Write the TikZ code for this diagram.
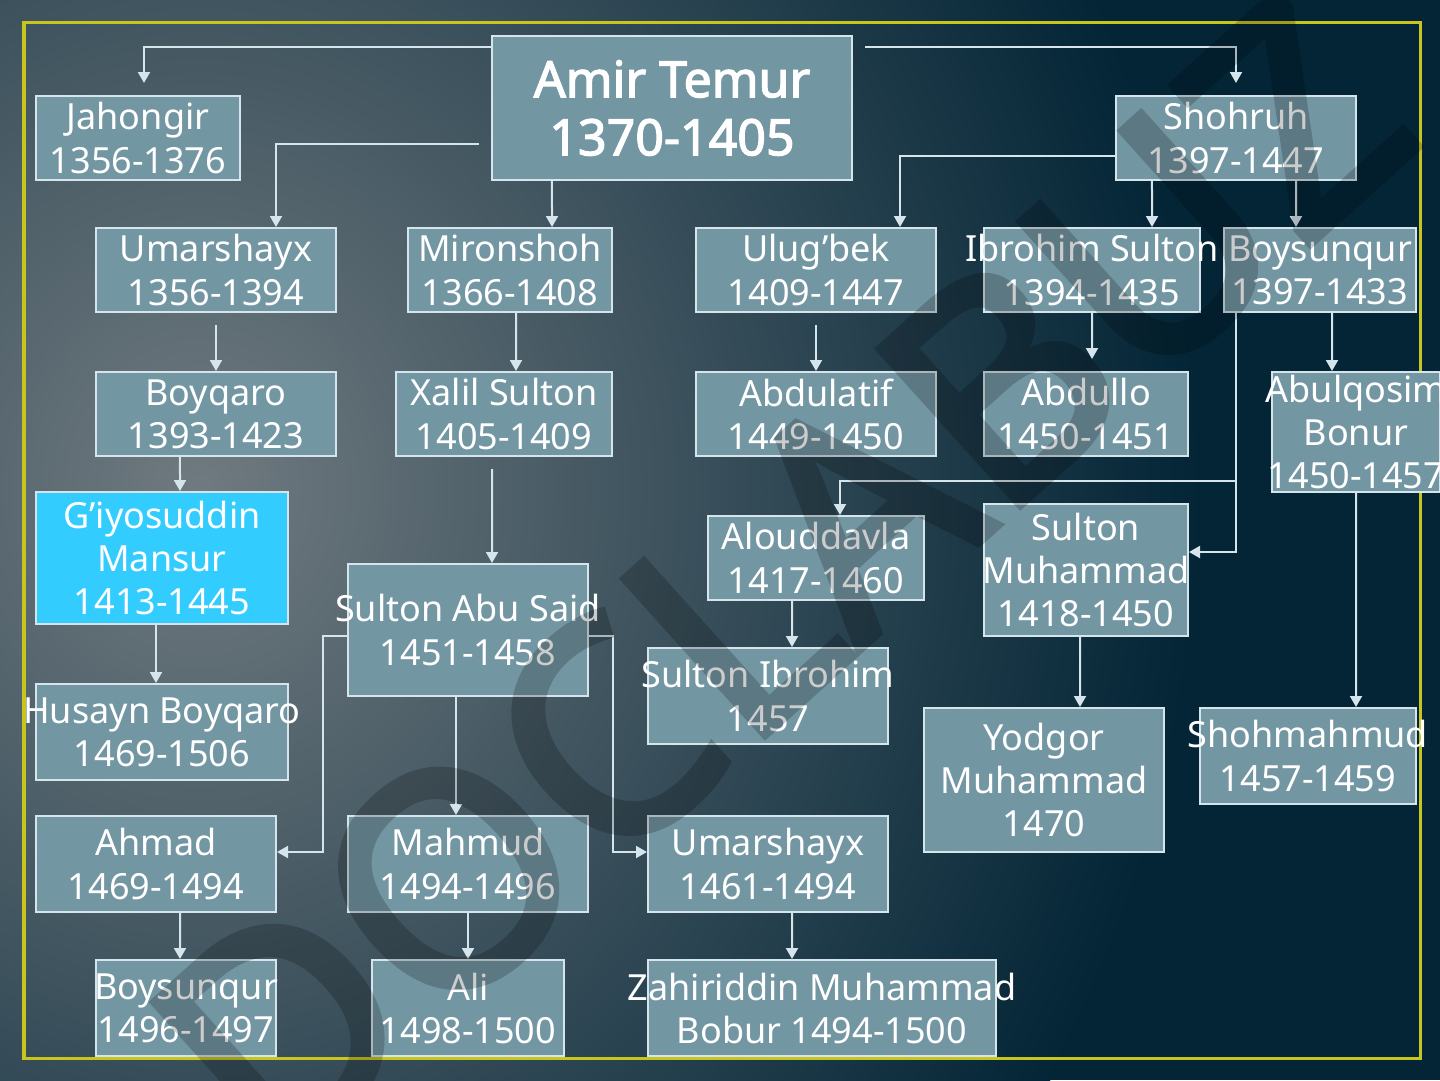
\documentclass[tikz,border=0pt]{standalone}
\usepackage{fontspec}
\setmainfont{Noto Sans}
\newfontfamily\heavysans{Noto Sans}[FakeBold=2.5]
\usepackage{tikz}
\usetikzlibrary{arrows.meta}

\newcommand{\spill}[1]{\makebox[0pt]{#1}}

\begin{document}
\begin{tikzpicture}
			[x=0.025cm,y=-0.025cm,
			%Styles
			person/.style={draw=boxline,line width=0.05cm,fill=boxfill,text=white,align=center,inner sep=0pt,
				font=\fontsize{25.6pt}{30.6pt}\selectfont},
			founder/.style={person,font=\heavysans\fontsize{35.6pt}{41.3pt}\selectfont},
			marked/.style={person,fill=markfill},
			link/.style={draw=linkline,line width=0.05cm,-{Triangle[length=7.8pt,width=8.5pt]}},
			frame/.style={draw=framecol,line width=0.075cm},
			watermark/.style={rotate=42,text=black,inner sep=0pt,
				font=\heavysans\fontsize{210pt}{210pt}\selectfont}
			]
			
			%Colors
			\definecolor{bgdark}{RGB}{3,37,54}
			\definecolor{bglight}{RGB}{112,122,128}
			\definecolor{boxfill}{RGB}{115,150,163}
			\definecolor{boxline}{RGB}{214,228,235}
			\definecolor{markfill}{RGB}{51,204,255}
			\definecolor{linkline}{RGB}{214,228,235}
			\definecolor{framecol}{RGB}{200,198,30}
			
			%Background
			\useasboundingbox (0,0) rectangle (1440,1080);
			\fill[bgdark] (0,0) rectangle (1440,1080);
			\begin{scope}
				\clip (0,0) rectangle (1440,1080);
				\shade[inner color=bglight,outer color=bgdark] (200,490) ellipse [x radius=25cm,y radius=28cm];
			\end{scope}
			\draw[frame] (24,22) rectangle (1420,1058);
			
			%The graphic
			\node[founder,minimum width=9cm,minimum height=3.6cm] (amir) at (672,108) {Amir Temur\\1370-1405};
			
			\node[person,minimum width=5.1cm,minimum height=2.1cm] (jahongir) at (138,138) {Jahongir\\1356-1376};
			\node[person,minimum width=6cm,minimum height=2.1cm] (shohruh) at (1236,138) {Shohruh\\1397-1447};
			
			\node[person,minimum width=6cm,minimum height=2.1cm] (umar1) at (216,270) {Umarshayx\\1356-1394};
			\node[person,minimum width=5.1cm,minimum height=2.1cm] (miron) at (510,270) {Mironshoh\\1366-1408};
			\node[person,minimum width=6cm,minimum height=2.1cm] (ulug) at (816,270) {Ulug’bek\\1409-1447};
			\node[person,minimum width=5.4cm,minimum height=2.1cm] (ibrohim) at (1092,270) {\spill{Ibrohim Sulton}\\1394-1435};
			\node[person,minimum width=4.8cm,minimum height=2.1cm] (boysun1) at (1320,270) {\spill{Boysunqur}\\\spill{1397-1433}};
			
			\node[person,minimum width=6cm,minimum height=2.1cm] (boyqaro) at (216,414) {Boyqaro\\1393-1423};
			\node[person,minimum width=5.4cm,minimum height=2.1cm] (xalil) at (504,414) {Xalil Sulton\\1405-1409};
			\node[person,minimum width=6cm,minimum height=2.1cm] (abdulatif) at (816,414) {Abdulatif\\1449-1450};
			\node[person,minimum width=5.1cm,minimum height=2.1cm] (abdullo) at (1086,414) {Abdullo\\1450-1451};
			\node[person,minimum width=4.2cm,minimum height=3cm] (abulqosim) at (1356,432) {\spill{Abulqosim}\\Bonur\\\spill{1450-1457}};
			
			\node[marked,minimum width=6.3cm,minimum height=3.3cm] (giyos) at (162,558) {G’iyosuddin\\Mansur\\1413-1445};
			\node[person,minimum width=6cm,minimum height=3.3cm] (abusaid) at (468,630) {\spill{Sulton Abu Said}\\1451-1458};
			\node[person,minimum width=5.4cm,minimum height=2.1cm] (alouddavla) at (816,558) {Alouddavla\\1417-1460};
			\node[person,minimum width=5.1cm,minimum height=3.3cm] (sultonmuh) at (1086,570) {Sulton\\\spill{Muhammad}\\1418-1450};
			
			\node[person,minimum width=6cm,minimum height=2.4cm] (sultonibr) at (768,696) {\spill{Sulton Ibrohim}\\1457};
			\node[person,minimum width=6.3cm,minimum height=2.4cm] (husayn) at (162,732) {\spill{Husayn Boyqaro}\\1469-1506};
			\node[person,minimum width=6cm,minimum height=3.6cm] (yodgor) at (1044,780) {Yodgor\\Muhammad\\1470};
			\node[person,minimum width=5.4cm,minimum height=2.4cm] (shohmah) at (1308,756) {\spill{Shohmahmud}\\1457-1459};
			
			\node[person,minimum width=6cm,minimum height=2.4cm] (ahmad) at (156,864) {Ahmad\\1469-1494};
			\node[person,minimum width=6cm,minimum height=2.4cm] (mahmud) at (468,864) {Mahmud\\1494-1496};
			\node[person,minimum width=6cm,minimum height=2.4cm] (umar2) at (768,864) {Umarshayx\\1461-1494};
			
			\node[person,minimum width=4.5cm,minimum height=2.4cm] (boysun2) at (186,1008) {\spill{Boysunqur}\\\spill{1496-1497}};
			\node[person,minimum width=4.8cm,minimum height=2.4cm] (ali) at (468,1008) {Ali\\1498-1500};
			\node[person,minimum width=8.7cm,minimum height=2.4cm] (bobur) at (822,1008) {\spill{Zahiriddin Muhammad}\\Bobur 1494-1500};
			
			%Links
			\draw[link] ([yshift=-0.3cm]amir.north west) -| ([xshift=0.15cm,yshift=0.3cm]jahongir.north);
			\draw[link] ([xshift=0.3cm,yshift=-0.3cm]amir.north east) -| ([yshift=0.3cm]shohruh.north);
			\draw[link] ([xshift=-0.3cm,yshift=-0.9cm]amir.west) -| ([xshift=1.5cm]umar1.north);
			\draw[link] ([xshift=-3cm]amir.south) -- ([xshift=1.05cm]miron.north);
			
			\draw[link] ([yshift=-0.45cm]shohruh.west) -| ([xshift=2.1cm]ulug.north);
			\draw[link] ([xshift=-2.1cm]shohruh.south) -- ([xshift=1.5cm]ibrohim.north);
			\draw[link] ([xshift=1.5cm]shohruh.south) -- ([xshift=-0.6cm]boysun1.north);
			
			\draw[link] ([yshift=-0.3cm]umar1.south) -- (boyqaro.north);
			\draw[link] ([xshift=0.15cm]miron.south) -- ([xshift=0.3cm]xalil.north);
			\draw[link] ([yshift=-0.3cm]ulug.south) -- (abdulatif.north);
			\draw[link] (ibrohim.south) -- ([xshift=0.15cm,yshift=0.3cm]abdullo.north);
			\draw[link] ([xshift=0.3cm]boysun1.south) -- ([xshift=-0.6cm]abulqosim.north);
			
			\coordinate (split) at ([xshift=-2.1cm,yshift=-4.2cm]boysun1.south);
			\draw[link] ([xshift=-2.1cm]boysun1.south) -- (split) -| ([xshift=0.6cm]alouddavla.north);
			\draw[link] (split) |- ([yshift=0.45cm]sultonmuh.east);
			
			\draw[link] ([xshift=-0.9cm]boyqaro.south) -- ([xshift=0.45cm]giyos.north);
			\draw[link] ([xshift=-0.15cm]giyos.south) -- ([xshift=-0.15cm]husayn.north);
			\draw[link] ([xshift=-0.3cm,yshift=-0.3cm]xalil.south) -- ([xshift=0.6cm]abusaid.north);
			\draw[link] ([yshift=-0.15cm]abusaid.west) -- ++(-0.6cm,0) |- ([yshift=0.3cm]ahmad.east);
			\draw[link] ([yshift=-0.15cm]abusaid.east) -- ++(0.6cm,0) |- ([yshift=0.3cm]umar2.west);
			\draw[link] ([xshift=-0.3cm]abusaid.south) -- ([xshift=-0.3cm]mahmud.north);
			\draw[link] ([xshift=-0.6cm]alouddavla.south) -- ([xshift=0.6cm]sultonibr.north);
			\draw[link] ([xshift=-0.15cm]sultonmuh.south) -- ([xshift=0.9cm]yodgor.north);
			\draw[link] (abulqosim.south) -- ([xshift=1.2cm]shohmah.north);
			
			\draw[link] ([xshift=0.6cm]ahmad.south) -- ([xshift=-0.15cm]boysun2.north);
			\draw[link] (mahmud.south) -- (ali.north);
			\draw[link] ([xshift=0.6cm]umar2.south) -- ([xshift=-0.75cm]bobur.north);
			
			%Watermark
			\begin{scope}[transparency group,opacity=0.2]
				\node[watermark] (mark) at (780,580) {DOCLABUZ};
			\end{scope}
		\end{tikzpicture}
\end{document}
